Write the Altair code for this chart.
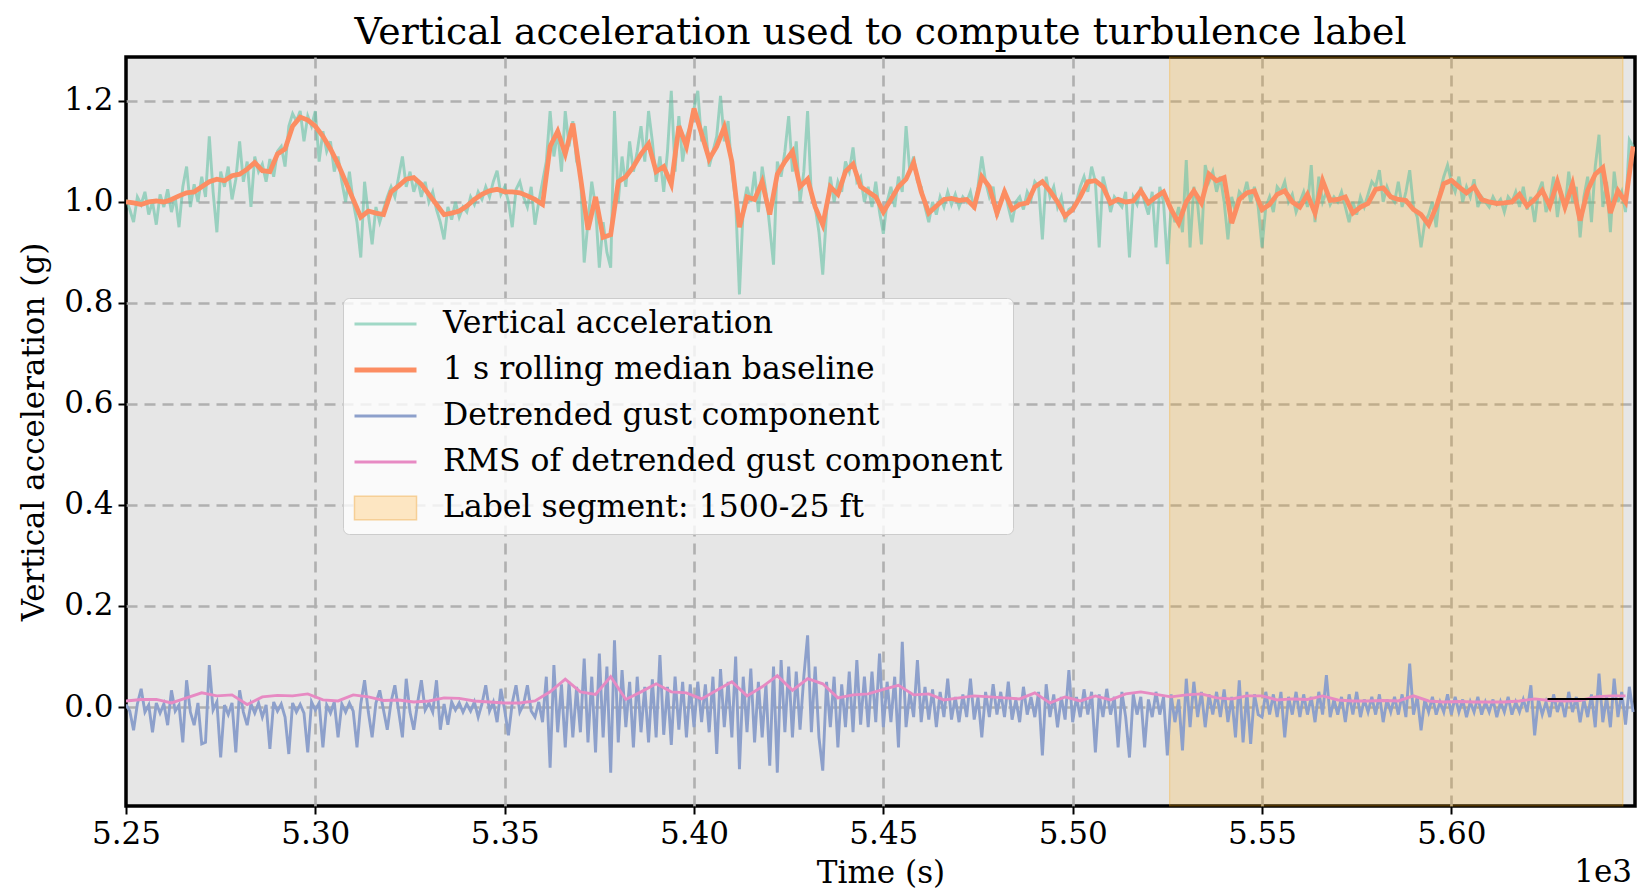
import altair as alt
import pandas as pd

# ---------------- data ----------------
T0 = 5250  # s, first sample

# Vertical acceleration, 1 s spacing (g)
raw_accel = [
    1.005, 0.985, 0.960, 1.010, 0.995, 1.020, 0.975, 1.000, 0.955, 1.015,
    0.990, 1.025, 0.980, 1.010, 0.950, 1.030, 1.070, 0.990, 1.035, 1.000,
    1.050, 1.010, 1.130, 1.020, 0.940, 1.060, 1.030, 1.070, 1.005, 1.045,
    1.120, 1.040, 1.080, 0.990, 1.090, 1.060, 1.075, 1.040, 1.085, 1.050,
    1.100, 1.110, 1.070, 1.150, 1.175, 1.160, 1.180, 1.120, 1.170, 1.150,
    1.180, 1.080, 1.140, 1.100, 1.120, 1.060, 1.090, 1.040, 1.000, 1.060,
    1.000, 0.960, 0.890, 1.040, 0.975, 0.916, 0.990, 0.960, 0.985, 1.010,
    1.030, 1.010, 1.050, 1.090, 1.030, 1.060, 1.020, 1.045, 1.010, 1.040,
    1.000, 1.020, 0.985, 0.960, 0.926, 0.990, 0.965, 1.000, 0.970, 0.990,
    0.980, 1.010, 0.995, 1.020, 1.005, 1.030, 1.010, 1.040, 1.062, 1.015,
    1.030, 1.000, 0.950, 1.025, 1.040, 1.010, 0.990, 1.030, 0.955, 1.000,
    1.040, 1.080, 1.180, 1.090, 1.140, 1.060, 1.180, 1.110, 1.160, 1.080,
    1.060, 0.880, 0.960, 1.040, 0.990, 0.870, 0.960, 0.900, 0.870, 1.180,
    1.000, 1.090, 1.030, 1.120, 1.060, 1.100, 1.150, 1.080, 1.180, 1.120,
    1.040, 1.090, 1.020, 1.100, 1.220, 1.060, 1.170, 1.080, 1.130, 1.150,
    1.185, 1.220, 1.120, 1.150, 1.070, 1.100, 1.130, 1.210, 1.120, 1.160,
    1.060, 1.000, 0.817, 0.990, 1.030, 1.000, 1.060, 0.980, 1.070, 1.020,
    0.950, 0.876, 1.080, 1.050, 1.100, 1.170, 1.060, 1.120, 1.000, 1.060,
    1.180, 1.010, 0.990, 0.940, 0.856, 0.980, 1.050, 1.000, 1.040, 1.020,
    1.080, 1.060, 1.108, 1.040, 1.050, 1.000, 1.030, 0.990, 1.040, 0.980,
    0.937, 1.000, 1.030, 0.990, 1.050, 1.020, 1.150, 1.060, 1.090, 1.040,
    1.030, 0.990, 0.960, 1.000, 0.975, 1.010, 0.990, 1.020, 0.995, 1.015,
    0.990, 1.010, 1.000, 1.020, 0.985, 1.030, 1.090, 1.040, 1.010, 1.030,
    0.970, 1.000, 1.025, 0.990, 0.960, 1.000, 1.010, 0.985, 1.020, 1.005,
    1.040, 1.030, 0.926, 1.050, 1.010, 1.030, 0.990, 1.010, 0.960, 0.985,
    0.990, 1.000, 1.030, 1.050, 1.020, 1.070, 1.040, 0.910, 1.050, 1.020,
    0.980, 1.010, 1.000, 0.990, 1.020, 0.890, 1.010, 0.995, 1.030, 1.000,
    0.975, 1.020, 0.910, 1.030, 1.000, 0.877, 0.990, 0.960, 0.990, 0.940,
    1.083, 0.910, 1.030, 0.995, 0.916, 1.073, 1.040, 1.060, 1.020, 1.050,
    1.000, 0.926, 1.010, 0.980, 1.020, 1.010, 1.040, 1.000, 1.030, 0.990,
    0.910, 0.990, 1.010, 0.980, 1.030, 1.020, 1.040, 1.000, 1.015, 0.980,
    1.000, 1.020, 0.990, 1.073, 0.960, 1.050, 1.000, 1.020, 0.995, 1.010,
    1.000, 1.020, 0.990, 0.960, 1.000, 0.975, 1.010, 0.990, 1.015, 1.040,
    1.030, 1.063, 1.000, 1.030, 1.010, 1.000, 1.040, 0.990, 1.020, 1.063,
    0.990, 0.970, 0.910, 0.960, 0.975, 1.000, 0.950, 1.020, 1.050, 1.073,
    1.040, 1.020, 1.050, 1.000, 1.030, 1.010, 1.045, 0.990, 1.010, 1.000,
    0.990, 1.010, 0.995, 1.005, 0.980, 1.010, 1.000, 1.020, 0.990, 1.030,
    0.985, 1.010, 0.960, 1.020, 1.040, 0.980, 1.000, 1.050, 0.970, 1.020,
    0.985, 1.060, 1.000, 1.030, 0.930, 1.010, 1.050, 0.960, 1.070, 1.133,
    0.990, 1.040, 0.940, 1.060, 1.000, 1.020, 0.980, 1.123, 1.110,
]

# 1 s rolling median baseline, 2 s spacing (g)
baseline = [
    1.000, 0.998, 0.995, 1.000, 1.002, 1.000, 1.005, 1.012, 1.018, 1.020,
    1.030, 1.040, 1.045, 1.042, 1.052, 1.055, 1.065, 1.078, 1.062, 1.060,
    1.095, 1.105, 1.150, 1.168, 1.162, 1.150, 1.130, 1.105, 1.075, 1.040,
    1.005, 0.970, 0.982, 0.978, 0.975, 1.020, 1.032, 1.045, 1.048, 1.035,
    1.015, 0.995, 0.975, 0.978, 0.982, 0.992, 1.005, 1.015, 1.022, 1.025,
    1.020, 1.020, 1.018, 1.012, 1.005, 0.995, 1.110, 1.140, 1.095, 1.155,
    1.050, 0.945, 1.010, 0.930, 0.935, 1.040, 1.050, 1.070, 1.095, 1.115,
    1.060, 1.070, 1.035, 1.150, 1.110, 1.185, 1.135, 1.085, 1.110, 1.148,
    1.080, 0.950, 1.010, 1.005, 1.040, 0.975, 1.055, 1.080, 1.100, 1.030,
    1.045, 0.990, 0.955, 1.030, 1.015, 1.060, 1.075, 1.030, 1.020, 1.010,
    0.980, 1.005, 1.030, 1.045, 1.078, 1.020, 0.978, 0.992, 1.005, 1.007,
    1.003, 1.005, 0.990, 1.050, 1.030, 0.978, 1.020, 0.985, 0.995, 0.998,
    1.030, 1.040, 1.022, 1.000, 0.972, 0.985, 1.010, 1.040, 1.042, 1.030,
    0.998, 1.005, 1.000, 1.002, 1.022, 0.998, 1.010, 1.020, 0.985, 0.958,
    1.000, 1.022, 0.998, 1.055, 1.042, 1.048, 0.958, 1.005, 1.018, 1.022,
    0.985, 0.995, 1.015, 1.022, 1.000, 0.990, 1.015, 0.978, 1.042, 1.003,
    1.005, 1.010, 0.978, 0.990, 0.997, 1.025, 1.028, 1.010, 1.005, 1.003,
    0.985, 0.975, 0.955, 0.990, 1.036, 1.043, 1.030, 1.018, 1.030, 1.005,
    1.000, 0.997, 0.998, 1.000, 1.015, 0.992, 1.005, 1.023, 0.992, 1.040,
    0.990, 1.036, 0.963, 1.023, 1.055, 1.068, 0.978, 1.022, 1.000, 1.110,
]

# Detrended gust component, 1 s spacing (g)
detrended = [
    0.005, -0.008, -0.046, 0.006, 0.036, -0.010, 0.004, -0.050, 0.008, -0.012,
    0.006, -0.036, 0.033, -0.008, 0.004, -0.070, 0.053, -0.010, -0.036, 0.008,
    -0.073, -0.070, 0.083, -0.006, 0.010, -0.100, 0.004, -0.015, 0.008, -0.090,
    0.033, -0.010, -0.036, 0.006, -0.012, 0.008, -0.020, 0.004, -0.083, 0.010,
    -0.008, 0.006, -0.020, -0.093, 0.008, -0.010, 0.005, -0.012, -0.090, 0.010,
    -0.006, 0.008, -0.080, 0.004, -0.012, 0.010, -0.060, 0.006, -0.010, 0.008,
    -0.008, -0.080, 0.006, 0.053, -0.010, -0.060, 0.008, 0.033, -0.006, -0.045,
    0.010, 0.043, -0.008, -0.060, 0.056, -0.010, -0.045, 0.008, 0.053, -0.006,
    0.008, -0.010, 0.053, -0.045, 0.006, -0.035, 0.010, -0.006, 0.008, -0.010,
    0.006, -0.008, 0.010, -0.020, 0.006, 0.043, -0.008, 0.010, -0.030, 0.036,
    -0.006, -0.056, 0.008, 0.043, -0.010, 0.006, 0.043, -0.008, -0.020, 0.010,
    -0.030, 0.060, -0.120, 0.083, -0.050, 0.045, -0.080, 0.050, -0.060, 0.040,
    -0.050, 0.096, -0.070, 0.060, -0.090, 0.106, -0.060, 0.080, -0.130, 0.132,
    -0.070, 0.073, -0.040, 0.050, -0.080, 0.060, -0.050, 0.040, -0.070, 0.055,
    -0.060, 0.103, -0.055, 0.040, -0.075, 0.060, -0.045, 0.050, -0.060, 0.045,
    -0.040, 0.050, -0.030, 0.045, -0.050, 0.060, -0.093, 0.075, -0.040, 0.050,
    -0.060, 0.100, -0.123, 0.060, -0.050, 0.076, -0.070, 0.050, -0.060, 0.045,
    -0.116, 0.080, -0.130, 0.093, -0.050, 0.080, -0.060, 0.070, -0.045, 0.060,
    0.142, -0.050, 0.080, -0.060, -0.126, 0.050, -0.040, 0.060, -0.080, 0.045,
    -0.040, 0.070, -0.050, 0.093, -0.035, 0.060, -0.040, 0.070, -0.030, 0.106,
    -0.040, 0.050, -0.030, 0.060, -0.080, 0.129, -0.040, 0.030, -0.020, 0.093,
    -0.030, 0.040, -0.025, 0.035, -0.040, 0.030, -0.020, 0.056, -0.025, 0.020,
    -0.030, 0.025, -0.020, 0.056, -0.025, 0.020, -0.060, 0.030, -0.020, 0.045,
    -0.015, 0.030, -0.020, 0.050, -0.025, 0.015, -0.030, 0.040, -0.015, 0.020,
    -0.020, 0.030, -0.096, 0.045, -0.020, 0.025, -0.040, 0.020, -0.025, 0.073,
    -0.030, 0.020, -0.020, 0.035, -0.015, 0.030, -0.090, 0.025, -0.020, 0.036,
    -0.015, 0.020, -0.080, 0.030, -0.020, -0.100, 0.025, -0.015, 0.020, -0.080,
    0.015, -0.020, 0.030, -0.015, 0.020, -0.096, 0.025, -0.030, 0.015, -0.086,
    0.056, -0.040, 0.050, -0.020, 0.030, -0.040, 0.025, -0.015, 0.030, -0.020,
    0.035, -0.030, 0.020, -0.060, 0.053, -0.070, 0.030, -0.073, 0.025, -0.015,
    -0.020, 0.030, -0.015, 0.025, -0.020, 0.030, -0.060, 0.020, -0.015, 0.030,
    -0.020, 0.025, -0.015, 0.020, -0.030, 0.030, -0.015, 0.063, -0.020, 0.015,
    -0.015, 0.020, -0.030, 0.025, -0.015, 0.030, -0.020, 0.015, -0.010, 0.020,
    -0.015, 0.025, -0.030, 0.015, -0.010, 0.020, -0.015, 0.025, -0.020, 0.086,
    -0.015, 0.020, -0.046, 0.015, -0.010, 0.020, -0.015, 0.010, -0.010, 0.025,
    -0.015, 0.020, -0.010, 0.015, -0.020, 0.010, -0.010, 0.020, -0.015, 0.010,
    -0.010, 0.015, -0.020, 0.010, -0.010, 0.020, -0.015, 0.010, -0.010, 0.015,
    -0.010, 0.043, -0.056, 0.015, -0.015, 0.010, -0.020, 0.025, -0.010, 0.015,
    -0.020, 0.030, -0.010, 0.020, -0.030, 0.015, -0.020, 0.025, -0.040, 0.066,
    -0.030, 0.020, -0.040, 0.056, -0.020, 0.030, -0.035, 0.040, -0.010,
]

# RMS of detrended gust component, 4 s spacing (g)
rms = [
    0.012, 0.015, 0.015, 0.008, 0.018, 0.028, 0.022, 0.024, 0.005, 0.020,
    0.023, 0.022, 0.026, 0.014, 0.012, 0.024, 0.020, 0.013, 0.014, 0.010,
    0.012, 0.018, 0.017, 0.012, 0.010, 0.008, 0.008, 0.012, 0.030, 0.055,
    0.030, 0.025, 0.060, 0.015, 0.030, 0.046, 0.030, 0.028, 0.016, 0.033,
    0.050, 0.022, 0.040, 0.062, 0.033, 0.056, 0.046, 0.018, 0.024, 0.026,
    0.035, 0.043, 0.024, 0.026, 0.014, 0.018, 0.022, 0.020, 0.018, 0.016,
    0.028, 0.008, 0.020, 0.012, 0.022, 0.014, 0.026, 0.030, 0.025, 0.020,
    0.024, 0.026, 0.018, 0.016, 0.022, 0.022, 0.014, 0.016, 0.015, 0.022,
    0.014, 0.012, 0.012, 0.013, 0.012, 0.022, 0.012, 0.010, 0.011, 0.010,
    0.010, 0.010, 0.012, 0.016, 0.013, 0.012, 0.013, 0.020, 0.022, 0.022,
]

# label segment (1500-25 ft) time span, s
segment_start = [5525.6]
segment_end = [5645.3]

# short black marker of the segment RMS level
marker_t0 = [5625.4]
marker_t1 = [5645.3]
marker_value = [0.016]

x_domain = [5250, 5648.5]
y_domain = [-0.196, 1.287]
x_ticks = [5250, 5300, 5350, 5400, 5450, 5500, 5550, 5600]
y_ticks = [0.0, 0.2, 0.4, 0.6, 0.8, 1.0, 1.2]

SEG = "Label segment: 1500-25 ft"
series_names = [
    "Vertical acceleration",
    "1 s rolling median baseline",
    "Detrended gust component",
    "RMS of detrended gust component",
    SEG,
]
series_colors = ["#66c2a5", "#fc8d62", "#8da0cb", "#e78ac3", "#f6cf96"]

FONT = "DejaVu Serif"

# ---------------- tables ----------------
raw_df = pd.DataFrame({"t": [T0 + i for i in range(len(raw_accel))],
                       "value": raw_accel, "series": series_names[0]})
base_df = pd.DataFrame({"t": [T0 + 2 * i for i in range(len(baseline))],
                        "value": baseline, "series": series_names[1]})
det_df = pd.DataFrame({"t": [T0 + i for i in range(len(detrended))],
                       "value": detrended, "series": series_names[2]})
rms_df = pd.DataFrame({"t": [T0 + 4 * i for i in range(len(rms))],
                       "value": rms, "series": series_names[3]})
seg_df = pd.DataFrame({"start": segment_start, "end": segment_end})
marker_df = pd.DataFrame({"t0": marker_t0, "t1": marker_t1, "v": marker_value})
offset_df = pd.DataFrame({"txt": ["1e3"]})

# ---------------- encodings ----------------
x_axis = alt.Axis(
    values=x_ticks, labelExpr="format(datum.value / 1000, '.2f')", labelFlush=False,
    title="Time (s)", titleY=76, titleBaseline="alphabetic",
    gridOpacity={"condition": {"test": f"datum.value === {x_domain[0]}", "value": 0}, "value": 1},
)
y_axis = alt.Axis(values=y_ticks, format=".1f", title="Vertical acceleration (g)",
                  titleX=-83, titleBaseline="alphabetic", labelFlush=False)
x_scale = alt.Scale(domain=x_domain, nice=False, zero=False)
y_scale = alt.Scale(domain=y_domain, nice=False, zero=False)

legend = alt.Legend(
    title=None, orient="none", legendX=217, legendY=241,
    fillColor="rgba(255,255,255,0.8)", strokeColor="#cccccc", cornerRadius=6,
    padding=10, rowPadding=14, clipHeight=32,
    labelFont=FONT, labelFontSize=31.5, labelColor="black", labelLimit=1000,
    labelOffset=25,
    symbolSize=3844,
    symbolType=alt.ExprRef(expr=f"(datum.value === '{SEG}' ? 'M-1,-0.38H1V0.38H-1Z' : 'stroke')"),
    symbolStrokeWidth=alt.ExprRef(expr=f"(datum.value === '{series_names[1]}' ? 4.8 : (datum.value === '{SEG}' ? 1.5 : 2.9))"),
    symbolFillColor=alt.ExprRef(expr=f"(datum.value === '{SEG}' ? '#fde6c2' : 'transparent')"),
    symbolOpacity=alt.ExprRef(expr=f"(datum.value === '{series_names[0]}' ? 0.6 : 1)"),
)
color = alt.Color("series:N", scale=alt.Scale(domain=series_names, range=series_colors),
                  legend=legend)


def line_layer(df, width, opacity=1.0):
    return alt.Chart(df).mark_line(strokeWidth=width, opacity=opacity, clip=True).encode(
        x=alt.X("t:Q", scale=x_scale, axis=x_axis),
        y=alt.Y("value:Q", scale=y_scale, axis=y_axis),
        color=color,
    )


span = alt.Chart(seg_df).mark_rect(
    fill="orange", fillOpacity=0.2, stroke="orange", strokeOpacity=0.3, strokeWidth=1.2
).encode(
    x=alt.X("start:Q", scale=x_scale, axis=x_axis),
    x2="end:Q",
)

marker = alt.Chart(marker_df).mark_rule(color="black", strokeWidth=2).encode(
    x=alt.X("t0:Q", scale=x_scale, axis=x_axis),
    x2="t1:Q",
    y=alt.Y("v:Q", scale=y_scale, axis=y_axis),
)

offset_text = alt.Chart(offset_df).mark_text(
    font=FONT, fontSize=31, align="right", baseline="alphabetic", color="black"
).encode(text="txt:N", x=alt.value(1506), y=alt.value(825))

chart = alt.layer(
    span,
    line_layer(raw_df, 2.9, 0.6),
    line_layer(base_df, 4.8),
    line_layer(det_df, 2.9),
    line_layer(rms_df, 2.9),
    marker,
    offset_text,
).properties(
    width=1509, height=749,
    padding={"left": 126, "top": 57, "right": 3, "bottom": 83},
    autosize=alt.AutoSizeParams(type="none"),
    title=alt.TitleParams(
        "Vertical acceleration used to compute turbulence label",
        font=FONT, fontSize=37.8, fontWeight="normal", color="black",
        anchor="middle", frame="group", baseline="alphabetic", offset=12, dy=37,
    ),
).configure_view(
    fill="#e6e6e6", stroke="black", strokeWidth=3.5
).configure_axis(
    grid=True, gridColor="#b0b0b0", gridDash=[11, 7], gridWidth=2.6, domain=False,
    tickColor="black", tickWidth=2, tickSize=8,
    labelFont=FONT, labelFontSize=31, labelColor="black", labelPadding=5,
    titleFont=FONT, titleFontSize=31, titleFontWeight="normal", titleColor="black",
)

chart.save("out.html", embed_options={"renderer": "svg", "actions": False})
